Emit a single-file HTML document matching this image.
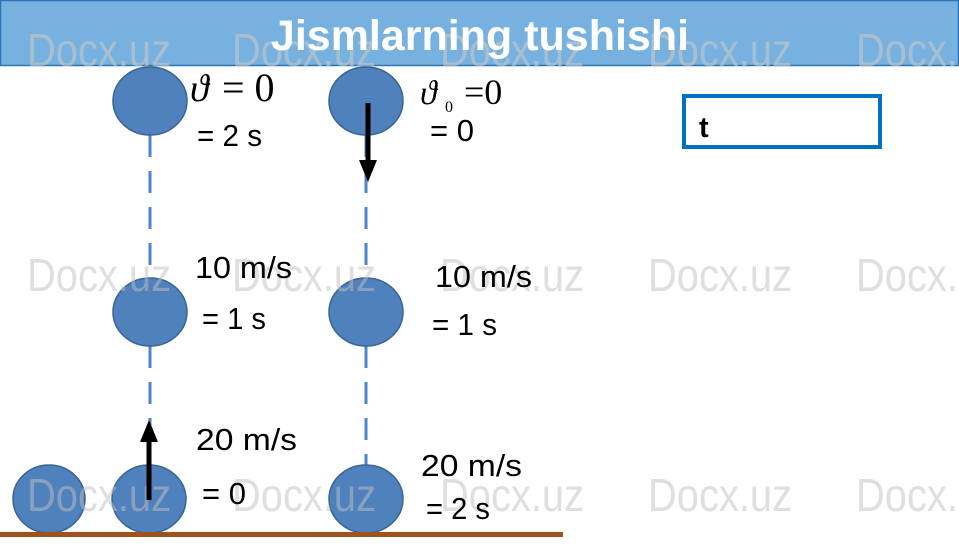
<!DOCTYPE html>
<html><head><meta charset="utf-8"><style>
body{margin:0;width:959px;height:553px;overflow:hidden;background:#fff}
svg{display:block}
</style></head><body>
<svg width="959" height="553" viewBox="0 0 959 553" xmlns="http://www.w3.org/2000/svg" font-family="Liberation Sans, sans-serif">
<rect x="0.5" y="0.5" width="958" height="65" fill="#77b1df" stroke="#2e75b6" stroke-width="1.5"/>
<g fill="#c8c8c8" fill-opacity="0.6" font-size="46">
<text x="27" y="66" textLength="144" lengthAdjust="spacingAndGlyphs">Docx.uz</text>
<text x="232" y="66" textLength="144" lengthAdjust="spacingAndGlyphs">Docx.uz</text>
<text x="440" y="66" textLength="144" lengthAdjust="spacingAndGlyphs">Docx.uz</text>
<text x="648" y="66" textLength="144" lengthAdjust="spacingAndGlyphs">Docx.uz</text>
<text x="856" y="66" textLength="144" lengthAdjust="spacingAndGlyphs">Docx.uz</text>
</g>
<text x="480" y="50" text-anchor="middle" font-size="43" font-weight="bold" fill="#fff">Jismlarning tushishi</text>
<g stroke="#4a86c8" stroke-width="3" stroke-dasharray="22,14">
<line x1="150" y1="135" x2="150" y2="278"/>
<line x1="150" y1="346" x2="150" y2="465"/>
<line x1="366" y1="135" x2="366" y2="278"/>
<line x1="366" y1="346" x2="366" y2="465"/>
</g>
<g fill="#4f81bd" stroke="#3a6594" stroke-width="1.5">
<ellipse cx="150" cy="101" rx="37" ry="34"/>
<ellipse cx="366" cy="101" rx="37" ry="34"/>
<ellipse cx="150" cy="312" rx="37" ry="34"/>
<ellipse cx="366" cy="312" rx="37" ry="34"/>
<ellipse cx="49" cy="499" rx="36" ry="34"/>
<ellipse cx="149" cy="499" rx="37" ry="34"/>
<ellipse cx="366" cy="499" rx="37" ry="34"/>
</g>
<g fill="#c0c0c0" fill-opacity="0.5" font-size="46">
<text x="27" y="291" textLength="144" lengthAdjust="spacingAndGlyphs">Docx.uz</text>
<text x="232" y="291" textLength="144" lengthAdjust="spacingAndGlyphs">Docx.uz</text>
<text x="440" y="291" textLength="144" lengthAdjust="spacingAndGlyphs">Docx.uz</text>
<text x="648" y="291" textLength="144" lengthAdjust="spacingAndGlyphs">Docx.uz</text>
<text x="856" y="291" textLength="144" lengthAdjust="spacingAndGlyphs">Docx.uz</text>
<text x="27" y="511" textLength="144" lengthAdjust="spacingAndGlyphs">Docx.uz</text>
<text x="232" y="511" textLength="144" lengthAdjust="spacingAndGlyphs">Docx.uz</text>
<text x="440" y="511" textLength="144" lengthAdjust="spacingAndGlyphs">Docx.uz</text>
<text x="648" y="511" textLength="144" lengthAdjust="spacingAndGlyphs">Docx.uz</text>
<text x="856" y="511" textLength="144" lengthAdjust="spacingAndGlyphs">Docx.uz</text>
</g>
<rect x="0" y="532" width="563" height="5" fill="#a0521c"/>
<line x1="149" y1="500" x2="149" y2="440" stroke="#000" stroke-width="5"/>
<polygon points="149,420 140,442 158,442" fill="#000"/>
<line x1="368" y1="103" x2="368" y2="162" stroke="#000" stroke-width="5"/>
<polygon points="368,182 359,160 377,160" fill="#000"/>
<rect x="684" y="96" width="196" height="51" fill="#fff" stroke="#0070c0" stroke-width="4"/>
<text x="699" y="137" font-size="29" font-weight="bold">t</text>
<g font-family="Liberation Serif, serif">
<text x="190" y="101" font-style="italic" font-size="38">ϑ</text>
<text x="222" y="101" font-size="40">= 0</text>
<text x="420" y="104" font-style="italic" font-size="34">ϑ</text>
<text x="445" y="112" font-size="16">0</text>
<text x="464" y="104" font-size="36">=0</text>
</g>
<g font-size="31" fill="#000" lengthAdjust="spacingAndGlyphs">
<text x="197" y="146" textLength="65" lengthAdjust="spacingAndGlyphs">= 2 s</text>
<text x="430" y="141" textLength="44" lengthAdjust="spacingAndGlyphs">= 0</text>
<text x="195" y="278" textLength="97" lengthAdjust="spacingAndGlyphs">10 m/s</text>
<text x="202" y="329" textLength="64" lengthAdjust="spacingAndGlyphs">= 1 s</text>
<text x="435" y="287" textLength="97" lengthAdjust="spacingAndGlyphs">10 m/s</text>
<text x="432" y="335" textLength="65" lengthAdjust="spacingAndGlyphs">= 1 s</text>
<text x="196" y="450" textLength="101" lengthAdjust="spacingAndGlyphs">20 m/s</text>
<text x="202" y="504" textLength="44" lengthAdjust="spacingAndGlyphs">= 0</text>
<text x="421" y="476" textLength="101" lengthAdjust="spacingAndGlyphs">20 m/s</text>
<text x="426" y="519" textLength="64" lengthAdjust="spacingAndGlyphs">= 2 s</text>
</g>
</svg>
</body></html>
